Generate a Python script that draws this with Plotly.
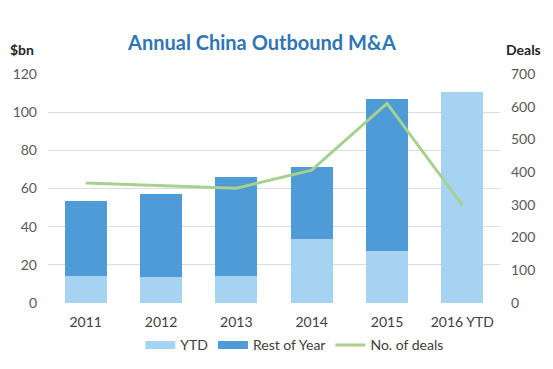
import plotly.graph_objects as go
from plotly.subplots import make_subplots

categories = ["2011", "2012", "2013", "2014", "2015", "2016 YTD"]
ytd = [14.0, 13.5, 14.0, 33.4, 27.3, 110.6]
total = [53.5, 57.0, 66.0, 71.4, 106.8, None]
rest_of_year = [t - y if t is not None else 0 for t, y in zip(total, ytd)]
deals = [367, 360, 351, 406, 610, 299]

C_YTD = "#a6d3f2"
C_REST = "#4e9bd8"
C_LINE = "#a9d18e"
FONT = "Lato"

fig = make_subplots(specs=[[{"secondary_y": True}]])
fig.add_trace(go.Bar(x=categories, y=ytd, name="YTD", marker_color=C_YTD,
                     marker_line_width=0, showlegend=False), secondary_y=False)
fig.add_trace(go.Bar(x=categories, y=rest_of_year, name="Rest of Year", marker_color=C_REST,
                     marker_line_width=0, showlegend=False), secondary_y=False)
fig.add_trace(go.Scatter(x=categories, y=deals, name="No. of deals", mode="lines",
                         line=dict(color=C_LINE, width=3), showlegend=False), secondary_y=True)
# legend entries (wide swatches like the original)
for nm, col, w in [("YTD", C_YTD, 8), ("Rest of Year", C_REST, 8), ("No. of deals", C_LINE, 3)]:
    fig.add_trace(go.Scatter(x=[None], y=[None], name=nm, mode="lines",
                             line=dict(color=col, width=w)), secondary_y=False)

W, H = 537, 353
fig.update_layout(
    width=W, height=H,
    margin=dict(l=40, r=45, t=66, b=58, autoexpand=False),
    barmode="stack", bargap=0.44,
    plot_bgcolor="white", paper_bgcolor="white",
    font=dict(family=FONT, size=14, color="#595959"),
    title=dict(text="<b>Annual China Outbound M&A</b>", x=0.473, xanchor="center",
               y=0.901, yanchor="middle",
               font=dict(family=FONT, size=20, color="#2e75b6")),
    legend=dict(orientation="h", x=0.546, xanchor="center", y=-0.115, yanchor="top",
                font=dict(size=14, color="#404040"), itemwidth=30, traceorder="normal"),
    showlegend=True,
)
fig.update_xaxes(domain=[0, 1], showgrid=False, showline=False, ticks="", ticklabelstandoff=9,
                 tickfont=dict(size=14, color="#404040"))
fig.update_yaxes(range=[0, 120], dtick=20, showgrid=True, gridcolor="#dcdcdc", gridwidth=1,
                 zeroline=False, ticks="", ticklabelstandoff=10,
                 tickfont=dict(size=14, color="#595959"), secondary_y=False)
fig.update_yaxes(range=[0, 700], dtick=100, showgrid=False, zeroline=False, ticks="",
                 ticklabelstandoff=10,
                 tickfont=dict(size=14, color="#595959"), secondary_y=True)

fig.add_annotation(text="<b>$bn</b>", xref="paper", yref="paper", x=-0.057, y=1.105,
                   xanchor="center", yanchor="middle", showarrow=False,
                   font=dict(family=FONT, size=14, color="#262626"))
fig.add_annotation(text="<b>Deals</b>", xref="paper", yref="paper", x=1.053, y=1.105,
                   xanchor="center", yanchor="middle", showarrow=False,
                   font=dict(family=FONT, size=14, color="#262626"))

fig.write_html("out.html")
